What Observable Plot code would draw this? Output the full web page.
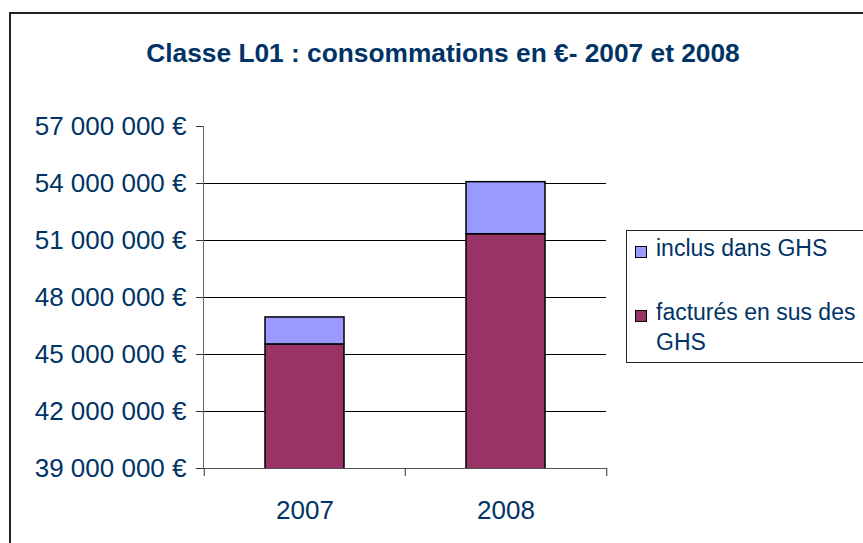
<!DOCTYPE html>
<html><head><meta charset="utf-8">
<script src="https://cdn.jsdelivr.net/npm/d3@7"></script>
<script src="https://cdn.jsdelivr.net/npm/@observablehq/plot@0.6"></script>
<style>
body{margin:0;background:#fff;font-family:"Liberation Sans",Arial,sans-serif;}
#wrap{position:relative;width:863px;height:543px;overflow:hidden;background:#fff;}
#border{position:absolute;left:9px;top:12px;width:900px;height:600px;border:2px solid #222;box-sizing:border-box;}
#title{position:absolute;left:0;width:886px;top:38px;text-align:center;font-weight:bold;font-size:26.3px;color:#003366;white-space:nowrap;}
#chart{position:absolute;left:0;top:0;}
#legend{position:absolute;left:626px;top:230px;width:300px;height:133px;border:1px solid #222;box-sizing:border-box;}
.item{position:absolute;left:9px;font-size:23px;line-height:30px;color:#003366;}
.sw{position:absolute;left:-1px;width:10px;height:10px;border:1px solid #000;}
</style></head>
<body>
<div id="wrap">
<div id="border"></div>
<div id="chart"></div>
<div id="title"></div>
<div id="legend"></div>
</div>
<script>
const titleText = "Classe L01 : consommations en €- 2007 et 2008";
const years = ["2007", "2008"];
const seriesNames = ["inclus dans GHS", "factur\u00e9s en sus des GHS"];
const seriesColors = ["#9999FF", "#993366"];
const inclus = [1420000, 2740000];
const factures = [45530000, 51330000];
const yTicks = [39000000, 42000000, 45000000, 48000000, 51000000, 54000000, 57000000];
const gridTicks = [42000000, 45000000, 48000000, 51000000, 54000000];

const rows = [];
years.forEach((y, i) => rows.push({year: y, series: seriesNames[1], value: factures[i]}));
years.forEach((y, i) => rows.push({year: y, series: seriesNames[0], value: inclus[i]}));

const fr = d3.formatLocale({decimal: ",", thousands: "\u00a0", grouping: [3], currency: ["", "\u00a0\u20ac"]});
const fmt = fr.format("$,.0f");

const W = 863, H = 543, mL = 203, mR = 257, mT = 126, mB = 75;
const bw = (W - mL - mR) / years.length;

const plot = Plot.plot({
  width: W, height: H,
  marginLeft: mL, marginRight: mR, marginTop: mT, marginBottom: mB,
  style: {fontFamily: "Liberation Sans, Arial, sans-serif", fontSize: "26px", overflow: "visible", background: "transparent"},
  x: {type: "band", domain: years, padding: 0, label: null},
  y: {domain: [39000000, 57000000], label: null},
  color: {domain: seriesNames, range: seriesColors},
  marks: [
    Plot.ruleY(gridTicks, {stroke: "#000", strokeWidth: 1}),
    Plot.barY(rows, {x: "year", y: "value", fill: "series", stroke: "#000", strokeWidth: 1.5, insetLeft: 61, insetRight: 61, clip: true}),
    Plot.frame({anchor: "left", stroke: "#666"}),
    Plot.ruleY([39000000], {stroke: "#555"}),
    Plot.axisY({ticks: yTicks, tickSize: 7, text: null, stroke: "#333"}),
    Plot.axisY({ticks: yTicks, tickSize: 0, tickPadding: 17, tickFormat: fmt, fill: "#003366", fontSize: 26}),
    Plot.ruleX(years, {x: d => d, dx: -bw / 2, y1: 39000000, y2: 39000000, insetBottom: -8, stroke: "#333"}),
    Plot.ruleX([years[years.length - 1]], {x: d => d, dx: bw / 2, y1: 39000000, y2: 39000000, insetBottom: -8, stroke: "#333"}),
    Plot.axisX({tickSize: 0, tickPadding: 32, fill: "#003366", fontSize: 26})
  ]
});
document.getElementById("chart").appendChild(plot);
document.getElementById("title").textContent = titleText;

const legend = document.getElementById("legend");
const items = [
  {name: seriesNames[0], color: seriesColors[0], top: 2, lines: ["inclus dans GHS"]},
  {name: seriesNames[1], color: seriesColors[1], top: 66, lines: ["factur\u00e9s en sus des", "GHS"]}
];
items.forEach(it => {
  const sw = document.createElement("div");
  sw.className = "sw";
  sw.style.left = "8px";
  sw.style.top = (it.top + 13) + "px";
  sw.style.background = it.color;
  legend.appendChild(sw);
  const t = document.createElement("div");
  t.className = "item";
  t.style.left = "29px";
  t.style.top = it.top + "px";
  t.innerHTML = it.lines.join("<br>");
  legend.appendChild(t);
});
</script>
</body></html>
